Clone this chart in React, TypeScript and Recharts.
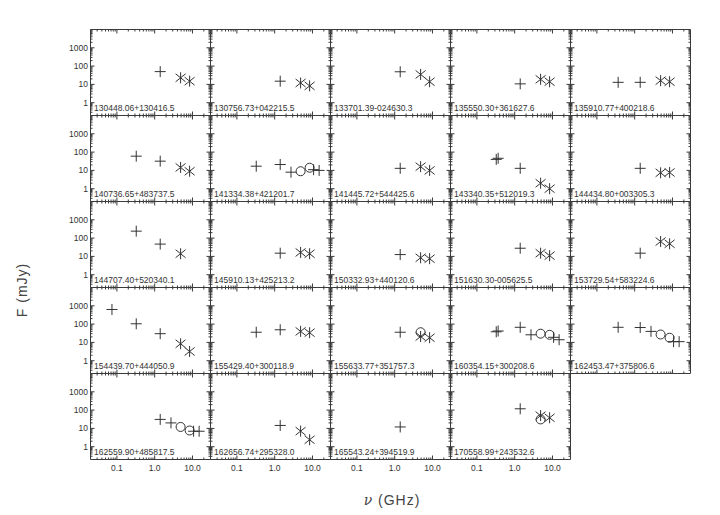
import React from 'react';
import { ScatterChart, Scatter, XAxis, YAxis, Customized } from 'recharts';

// source names, panel order: left to right, top to bottom
const names = [
  '130448.06+130416.5', '130756.73+042215.5', '133701.39-024630.3', '135550.30+361627.6', '135910.77+400218.6',
  '140736.65+483737.5', '141334.38+421201.7', '141445.72+544425.6', '143340.35+512019.3', '144434.80+003305.3',
  '144707.40+520340.1', '145910.13+425213.2', '150332.93+440120.6', '151630.30-005625.5', '153729.54+583224.6',
  '154439.70+444050.9', '155429.40+300118.9', '155633.77+351757.3', '160354.15+300208.6', '162453.47+375806.6',
  '162559.90+485817.5', '162656.74+295328.0', '165543.24+394519.9', '170558.99+243532.6',
];

// [GHz, mJy]
const plusPts: number[][][] = [
  [[1.4, 50]], [[1.4, 15]], [[1.4, 49]], [[1.4, 10.7]], [[0.365, 13], [1.4, 13]],
  [[0.325, 60], [1.4, 32]], [[0.325, 17], [1.4, 21], [2.7, 8], [10.7, 11], [15, 10]], [[1.4, 13]],
  [[0.325, 40], [0.365, 46], [1.4, 13]], [[1.4, 13]],
  [[0.325, 240], [1.4, 47]], [[1.4, 15]], [[1.4, 12.6]], [[1.4, 28]], [[1.4, 15]],
  [[0.074, 630], [0.325, 104], [1.4, 30]], [[0.325, 36], [1.4, 49]], [[1.4, 36]],
  [[0.325, 38], [0.365, 42], [1.4, 67], [2.7, 26], [10.7, 19], [15, 14]],
  [[0.365, 67], [1.4, 65], [2.7, 40], [10.7, 11], [15, 11]],
  [[1.4, 31], [2.7, 20], [10.7, 7], [15, 7]], [[1.4, 14.5]], [[1.4, 12]], [[1.4, 118]],
];

const starPts: number[][][] = [
  [[4.85, 23], [8.4, 15]], [[4.85, 12], [8.4, 8.3]], [[4.85, 35], [8.4, 14]], [[4.85, 19], [8.4, 14]], [[4.85, 16], [8.4, 14]],
  [[4.85, 14.5], [8.4, 9]], [], [[4.85, 16], [8.4, 10]], [[4.85, 2.0], [8.4, 1.0]], [[4.85, 7.4], [8.4, 7.7]],
  [[4.85, 14]], [[4.85, 16.5], [8.4, 14]], [[4.85, 8.4], [8.4, 7.5]], [[4.85, 15], [8.4, 11]], [[4.85, 65], [8.4, 49]],
  [[4.85, 8.4], [8.4, 3.2]], [[4.85, 40], [8.4, 34]], [[4.85, 21], [8.4, 18]], [], [],
  [], [[4.85, 7.1], [8.4, 2.4]], [], [[4.85, 50], [8.4, 38]],
];

const circlePts: number[][][] = [
  [], [], [], [], [],
  [], [[4.85, 9], [8.4, 14]], [], [], [],
  [], [], [], [], [],
  [], [], [[4.85, 36]], [[4.85, 30], [8.4, 26]], [[4.85, 27], [8.4, 18]],
  [[4.85, 12], [8.4, 7.7]], [], [], [[4.85, 31]],
];

const X_DOMAIN = [0.02, 30];
const Y_DOMAIN = [0.2, 10000];

const AX = '#3a3a3a';
const INK = '#333';
const FONT = '"Liberation Sans", Arial, sans-serif';

const ML = 32.5, MT = 4.5, MR = 3.5, MB = 19.5;
const W = 156, H = 110;
const THIN = 0.01; // axes need a nonzero box to draw

function logTicks(lo: number, hi: number) {
  const out: number[] = [];
  for (let e = -3; e <= 5; e++) {
    for (let m = 1; m <= 9; m++) {
      const v = Number((m * Math.pow(10, e)).toPrecision(6));
      if (v > lo * 1.0001 && v < hi * 0.9999) out.push(v);
    }
  }
  return out;
}
const xTicks = logTicks(X_DOMAIN[0], X_DOMAIN[1]);
const yTicks = logTicks(Y_DOMAIN[0], Y_DOMAIN[1]);
const isMajor = (v: number) => Math.abs(Math.log10(v) - Math.round(Math.log10(v))) < 1e-6;

const toXY = (a: number[][]) => a.map(([x, y]) => ({ x, y }));

const xTick = (dir: number, labels: boolean) => (p: any) => {
  const { x, y, payload } = p;
  const v = payload.value;
  const len = isMajor(v) ? 4 : 2;
  return (
    <g>
      <line x1={x} x2={x} y1={y} y2={y + dir * len} stroke={AX} />
      {labels && isMajor(v) && (
        <text x={x} y={y + 11.5} textAnchor="middle" fontSize={8.5} fontFamily={FONT} fill={INK}>
          {v < 1 ? String(v) : v.toFixed(1)}
        </text>
      )}
    </g>
  );
};

const yTick = (dir: number, labels: boolean) => (p: any) => {
  const { x, y, payload } = p;
  const v = payload.value;
  const len = isMajor(v) ? 4 : 2;
  return (
    <g>
      <line x1={x} x2={x + dir * len} y1={y} y2={y} stroke={AX} />
      {labels && isMajor(v) && (
        <text x={x - 2.5} y={y + 3} textAnchor="end" fontSize={8.5} fontFamily={FONT} fill={INK}>
          {String(v)}
        </text>
      )}
    </g>
  );
};

const PlusMark = (p: any) => (
  <path d={`M${p.cx - 5.5},${p.cy}h11M${p.cx},${p.cy - 5.5}v11`} stroke={INK} fill="none" />
);
const StarMark = (p: any) => (
  <path
    d={`M${p.cx},${p.cy - 5.5}v11M${p.cx - 5},${p.cy - 4}l10,8M${p.cx - 5},${p.cy + 4}l10,-8`}
    stroke={INK}
    fill="none"
  />
);
const CircleMark = (p: any) => <circle cx={p.cx} cy={p.cy} r={4.5} stroke={INK} fill="none" />;

function Panel({ i }: { i: number }) {
  const col = i % 5;
  const row = Math.floor(i / 5);
  const left = 90 + col * 120;
  const top = 29 + row * 86;
  const showY = col === 0;
  const showX = row === 4;
  return (
    <div style={{ position: 'absolute', left: left - 32, top: top - 4 }}>
      <ScatterChart width={W} height={H} margin={{ top: MT - THIN, right: MR - THIN, bottom: MB - THIN, left: ML - THIN }}>
        <XAxis xAxisId="b" dataKey="x" type="number" scale="log" domain={X_DOMAIN} allowDataOverflow
          ticks={xTicks} interval={0} tickSize={0} tickMargin={0} height={THIN} stroke={AX} tick={xTick(-1, showX)} />
        <XAxis xAxisId="t" orientation="top" dataKey="x" type="number" scale="log" domain={X_DOMAIN} allowDataOverflow
          ticks={xTicks} interval={0} tickSize={0} tickMargin={0} height={THIN} stroke={AX} tick={xTick(1, false)} />
        <YAxis yAxisId="l" dataKey="y" type="number" scale="log" domain={Y_DOMAIN} allowDataOverflow
          ticks={yTicks} interval={0} tickSize={0} tickMargin={0} width={THIN} stroke={AX} tick={yTick(1, showY)} />
        <YAxis yAxisId="r" orientation="right" dataKey="y" type="number" scale="log" domain={Y_DOMAIN} allowDataOverflow
          ticks={yTicks} interval={0} tickSize={0} tickMargin={0} width={THIN} stroke={AX} tick={yTick(-1, false)} />
        <Scatter xAxisId="b" yAxisId="l" data={toXY(plusPts[i])} shape={PlusMark} isAnimationActive={false} />
        <Scatter xAxisId="b" yAxisId="l" data={toXY(starPts[i])} shape={StarMark} isAnimationActive={false} />
        <Scatter xAxisId="b" yAxisId="l" data={toXY(circlePts[i])} shape={CircleMark} isAnimationActive={false} />
        <Customized
          component={() => (
            <text x={ML + 3.5} y={MT + 86 - 4.5} fontSize={8.5} fontFamily={FONT} fill={INK}>
              {names[i]}
            </text>
          )}
        />
      </ScatterChart>
    </div>
  );
}

export default function App() {
  return (
    <div style={{ position: 'absolute', left: 0, top: 0, width: 720, height: 515, background: '#fff', overflow: 'hidden' }}>
      {names.map((_, i) => (
        <Panel key={i} i={i} />
      ))}
      <div
        style={{
          position: 'absolute', left: 22 - 50, top: 290 - 9, width: 100, height: 18, lineHeight: '18px',
          textAlign: 'center', transform: 'rotate(-90deg)', fontFamily: FONT, fontSize: 14, letterSpacing: 1, color: '#444',
        }}
      >
        F (mJy)
      </div>
      <div
        style={{
          position: 'absolute', left: 392 - 60, top: 491, width: 120, height: 18, lineHeight: '18px',
          textAlign: 'center', fontFamily: FONT, fontSize: 14, letterSpacing: 1, color: '#444',
        }}
      >
        <span style={{ fontFamily: '"DejaVu Serif", serif', fontStyle: 'italic' }}>ν</span> (GHz)
      </div>
    </div>
  );
}
